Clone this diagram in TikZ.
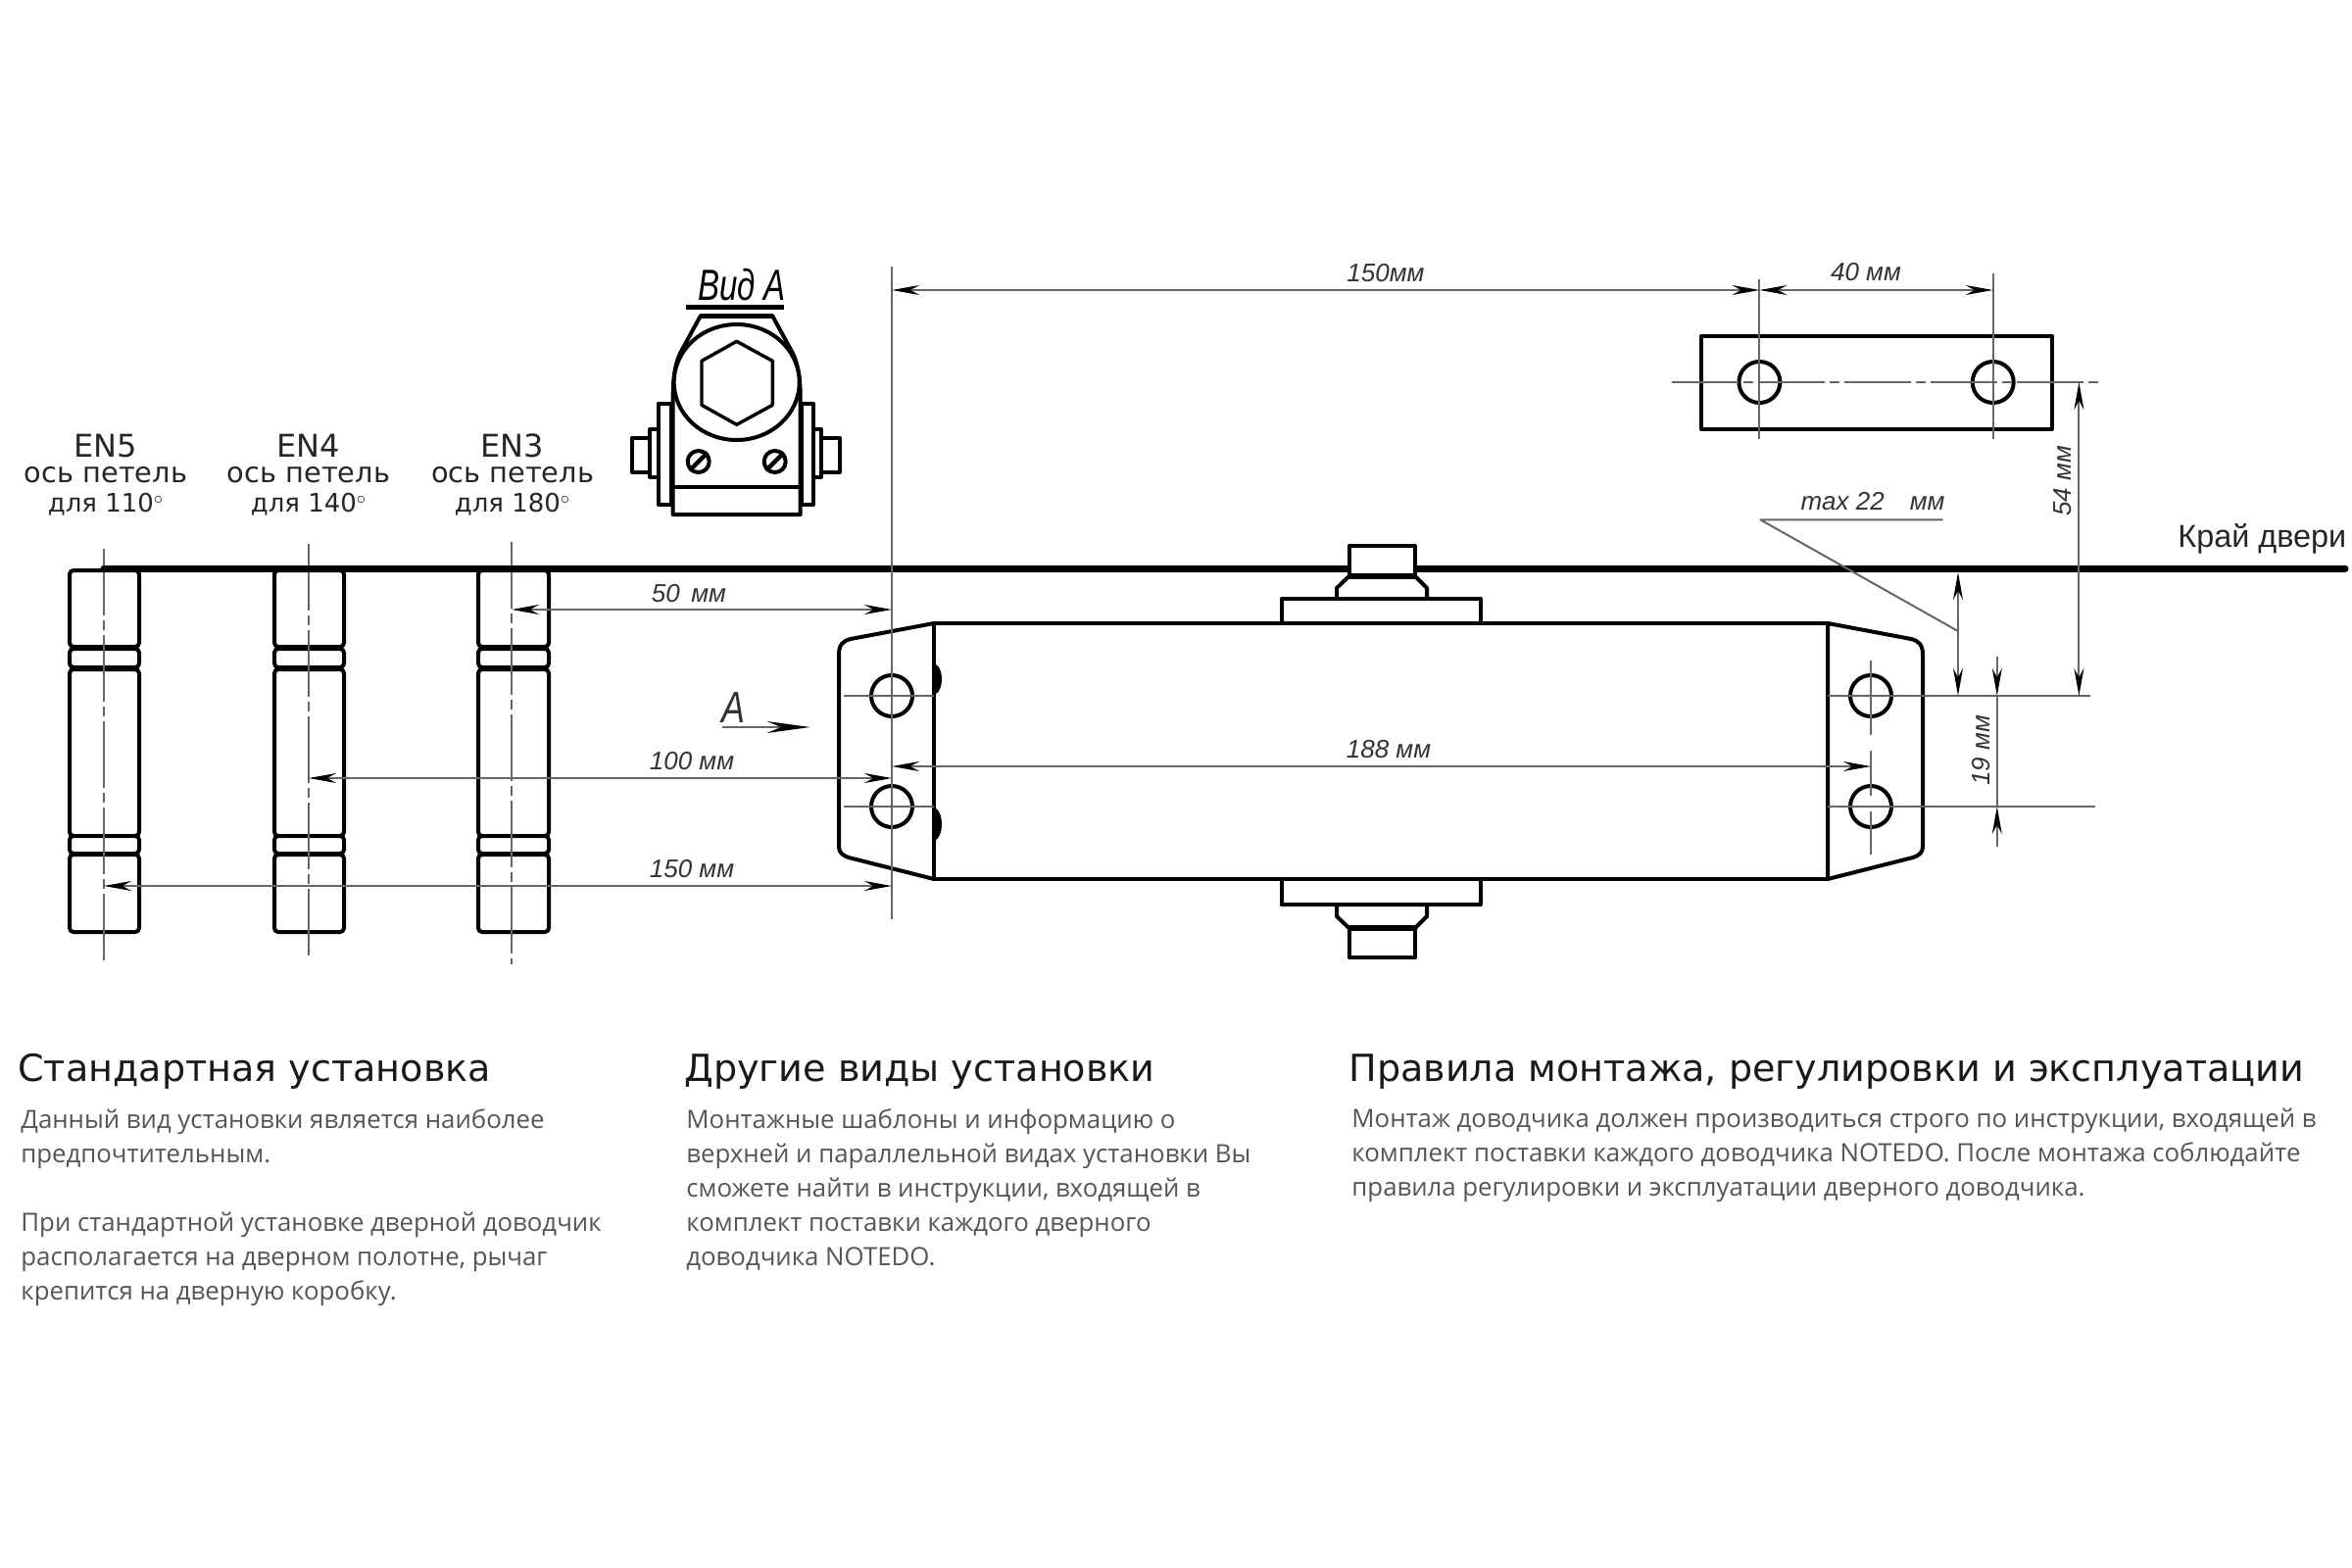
\documentclass[tikz,border=0pt]{standalone}
\usepackage{fontspec}
\setmainfont{Open Sans}
\newfontfamily\labelfont{DejaVu Sans}
\newfontfamily\dimfont{Liberation Sans}
\usetikzlibrary{arrows.meta}
\definecolor{bodygray}{HTML}{555555}
\definecolor{dimgray}{HTML}{666666}

\begin{document}
\begin{tikzpicture}[
        x = 0.5pt, y = -0.5pt, % one unit is one pixel of the reference
        > = {Stealth[length=14pt, width=5pt, color=black]}, % arrow head style
        node distance = 15pt, % distance between hinge labels
        line join = round
    ]

    \tikzstyle{outline}=[draw = black, line width = 2pt, fill = white]
    \tikzstyle{hingepart}=[outline, rounded corners = 2pt]
    \tikzstyle{hole}=[outline, circle, inner sep = 0pt, minimum size = 21pt]
    \tikzstyle{dimline}=[draw = dimgray, line width = 1pt]
    \tikzstyle{axisline}=[dimline, dash pattern = on 34pt off 2.5pt on 5pt off 2.5pt]
    \tikzstyle{dimtext}=[inner sep = 0pt, text = black!80, font = \dimfont\itshape\fontsize{13}{15}\selectfont]
    \tikzstyle{hingetitle}=[inner sep = 0pt, text = black!85, font = \labelfont\fontsize{16}{18}\selectfont]
    \tikzstyle{hingetext}=[hingetitle, font = \labelfont\fontsize{14.4}{16}\selectfont]
    \tikzstyle{hingeangle}=[hingetitle, font = \labelfont\fontsize{13}{15}\selectfont]
    \tikzstyle{heading}=[inner sep = 0pt, anchor = base west, text = black!90, font = \labelfont\fontsize{19.05}{22}\selectfont]
    \tikzstyle{bodytext}=[inner sep = 0pt, anchor = north west, align = left, text = bodygray, font = \fontsize{12.9}{17.5}\selectfont]

    \useasboundingbox (0,0) rectangle (2400,1600);

    % hinges
    \draw[hingepart] (71,582) rectangle (142,660);
    \draw[hingepart] (71,662) rectangle (142,681);
    \draw[hingepart] (71,683) rectangle (142,853);
    \draw[hingepart] (71,853) rectangle (142,871);
    \draw[hingepart] (71,872) rectangle (142,951);
    \draw[hingepart] (280,582) rectangle (351,660);
    \draw[hingepart] (280,662) rectangle (351,681);
    \draw[hingepart] (280,683) rectangle (351,853);
    \draw[hingepart] (280,853) rectangle (351,871);
    \draw[hingepart] (280,872) rectangle (351,951);
    \draw[hingepart] (488,582) rectangle (560,660);
    \draw[hingepart] (488,662) rectangle (560,681);
    \draw[hingepart] (488,683) rectangle (560,853);
    \draw[hingepart] (488,853) rectangle (560,871);
    \draw[hingepart] (488,872) rectangle (560,951);
    \coordinate (en5top) at (106,560);
    \coordinate (en5end) at (106,982);
    \coordinate (en4top) at (315,555);
    \coordinate (en4end) at (315,979);
    \coordinate (en3top) at (522,553);
    \coordinate (en3end) at (522,984);
    \draw[axisline] (en5top) -- (en5end);
    \draw[axisline] (en4top) -- (en4end);
    \draw[axisline] (en3top) -- (en3end);

    % door edge
    \coordinate (doorL) at (106,580);
    \coordinate (doorR) at (2393,580);
    \draw[line width = 3.5pt, line cap = round] (doorL) -- (doorR);

    % hinge labels
    \node[hingetitle] (en5) at (108,455) {EN5};
    \node[hingetext] (en5a) [below of=en5] {ось петель};
    \node[hingeangle] (en5b) [below of=en5a] {для 110$^{\circ}$};
    \node[hingetitle] (en4) at (315,455) {EN4};
    \node[hingetext] (en4a) [below of=en4] {ось петель};
    \node[hingeangle] (en4b) [below of=en4a] {для 140$^{\circ}$};
    \node[hingetitle] (en3) at (523,455) {EN3};
    \node[hingetext] (en3a) [below of=en3] {ось петель};
    \node[hingeangle] (en3b) [below of=en3a] {для 180$^{\circ}$};

    % view A
    \node[inner sep = 0pt, text = black, font = \dimfont\itshape\fontsize{16.5}{20}\selectfont] (viewA) at (757,291) {\scalebox{1}[1.35]{Вид А}};
    \coordinate (viewL) at (700,313);
    \coordinate (viewR) at (800,313);
    \draw[line width = 2.5pt] (viewL) -- (viewR);
    \draw[outline] (671.7,411.7) rectangle (685,515);
    \draw[outline] (818.3,411.7) rectangle (830,515);
    \draw[outline] (663.3,438) rectangle (671.7,486.7);
    \draw[outline] (645,446.7) rectangle (663.3,481.7);
    \draw[outline] (830,438) rectangle (838,486.7);
    \draw[outline] (838,446.7) rectangle (856.7,481.7);
    \draw[outline] (715,322) -- (788,322) -- (806,355)
        .. controls (814,368) and (816.7,385) .. (816.7,405)
        -- (816.7,525) -- (686.7,525) -- (686.7,405)
        .. controls (686.7,385) and (689,368) .. (697,355) -- cycle;
    \draw[line width = 2.5pt] (715,322) -- (788,322);
    \draw[outline] (751.7,390) ellipse [x radius = 64, y radius = 59];
    \draw[line width = 1.7pt] (751.7,348.3) -- (788.3,368.3) -- (788.3,413.3) -- (751.7,433.3)
        -- (716,413.3) -- (716,368.3) -- cycle;
    \coordinate (shelfL) at (686.7,496.7);
    \coordinate (shelfR) at (816.7,496.7);
    \draw[line width = 2pt] (shelfL) -- (shelfR);
    \node[outline, circle, inner sep = 0pt, minimum size = 11pt, fill = white] (screwL) at (712.7,471) {};
    \node[outline, circle, inner sep = 0pt, minimum size = 11pt, fill = white] (screwR) at (790.7,471) {};
    \draw[line width = 2.2pt] (screwL.south west) -- (screwL.north east);
    \draw[line width = 2.2pt] (screwR.south west) -- (screwR.north east);

    % mounting plate
    \draw[outline] (1736,343) rectangle (2094,438);
    \node[hole] (plateL) at (1795.4,390) {};
    \node[hole] (plateR) at (2033.7,390) {};
    \coordinate (plateW) at (1706,390);
    \coordinate (plateE) at (2141,390);
    \draw[axisline] (plateW) -- (plateE);
    \coordinate (plateLtop) at (1795.4,285);
    \coordinate (plateLend) at (1795.4,448);
    \coordinate (plateRtop) at (2033.7,279);
    \coordinate (plateRend) at (2033.7,448);
    \draw[dimline] (plateLtop) -- (plateLend);
    \draw[dimline] (plateRtop) -- (plateRend);

    % closer body
    \draw[outline] (1376.5,557) rectangle (1444,588);
    \draw[outline] (1376.5,588) -- (1364,600) -- (1364,611)
        -- (1456,611) -- (1456,600) -- (1444,588) -- cycle;
    \draw[line width = 3pt] (1376.5,588) -- (1444,588);
    \draw[outline] (1307.6,611) rectangle (1510.7,636);
    \draw[outline] (1376.5,947) rectangle (1444,977);
    \draw[outline] (1376.5,947) -- (1364,935) -- (1364,923)
        -- (1456,923) -- (1456,935) -- (1444,947) -- cycle;
    \draw[line width = 3pt] (1376.5,947) -- (1444,947);
    \draw[outline] (1307.6,897) rectangle (1510.7,923);
    \draw[outline] (953,636) -- (868,652) .. controls (860,654) and (856,658) .. (856,668)
        -- (856,864) .. controls (856,870) and (860,873) .. (866,875) -- (953,897) -- cycle;
    \draw[outline] (1865,636) -- (1950,652) .. controls (1958,654) and (1962,658) .. (1962,668)
        -- (1962,864) .. controls (1962,870) and (1958,873) .. (1952,875) -- (1865,897) -- cycle;
    \draw[outline] (953,636) rectangle (1865,897);
    \fill (955,678) .. controls (963,682) and (963,704) .. (955,708) -- cycle;
    \fill (955,825) .. controls (963,830) and (963,852) .. (955,857) -- cycle;
    \node[hole] (holeLT) at (910,710) {};
    \node[hole] (holeLB) at (910,823) {};
    \node[hole] (holeRT) at (1909,710) {};
    \node[hole] (holeRB) at (1909,823) {};
    \coordinate (holeLTw) at (861,710);
    \coordinate (holeLTe) at (953,710);
    \coordinate (holeLBw) at (861,823);
    \coordinate (holeLBe) at (953,823);
    \coordinate (holeRTw) at (1865,710);
    \coordinate (holeRTe) at (2133,710);
    \coordinate (holeRBw) at (1865,823);
    \coordinate (holeRBe) at (2138,823);
    \draw[dimline] (holeLTw) -- (holeLTe);
    \draw[dimline] (holeLBw) -- (holeLBe);
    \draw[dimline] (holeRTw) -- (holeRTe);
    \draw[dimline] (holeRBw) -- (holeRBe);
    \coordinate (axisRtop) at (1909,674);
    \coordinate (axisRend) at (1909,872);
    \draw[dimline, dash pattern = on 38pt off 8pt on 23pt off 8pt on 40pt] (axisRtop) -- (axisRend);

    % reference line and dimensions
    \coordinate (refTop) at (910,272);
    \coordinate (refEnd) at (910,938);
    \draw[dimline] (refTop) -- (refEnd);

    \coordinate (d50a) at (522,622);
    \coordinate (d50b) at (910,622);
    \draw[dimline, <->] (d50a) -- (d50b);
    \coordinate (d100a) at (315,794);
    \coordinate (d100b) at (910,794);
    \draw[dimline, line width = 1.4pt, <->] (d100a) -- (d100b);
    \coordinate (d150a) at (106,904);
    \coordinate (d150b) at (910,904);
    \draw[dimline, <->] (d150a) -- (d150b);
    \coordinate (d188a) at (910,782);
    \coordinate (d188b) at (1909,782);
    \draw[dimline, line width = 1.4pt, <->] (d188a) -- (d188b);
    \coordinate (dtopa) at (910,296);
    \coordinate (dtopb) at (1795.4,296);
    \draw[dimline, <->] (dtopa) -- (dtopb);
    \coordinate (d40b) at (2033.7,296);
    \draw[dimline, <->] (dtopb) -- (d40b);
    \coordinate (d54a) at (2121.4,390);
    \coordinate (d54b) at (2121.4,710);
    \draw[dimline, <->] (d54a) -- (d54b);
    \coordinate (d22a) at (1998,584);
    \coordinate (d22b) at (1998,710);
    \draw[dimline, <->] (d22a) -- (d22b);
    \coordinate (lead1) at (1982.6,530.4);
    \coordinate (lead2) at (1796.4,530.4);
    \coordinate (lead3) at (1998,644);
    \draw[dimline] (lead1) -- (lead2) -- (lead3);
    \coordinate (d19top) at (2037.8,670);
    \coordinate (d19a) at (2037.8,710);
    \coordinate (d19b) at (2037.8,823);
    \coordinate (d19end) at (2037.8,864);
    \draw[dimline, ->] (d19top) -- (d19a);
    \draw[dimline] (d19a) -- (d19b);
    \draw[dimline, ->] (d19end) -- (d19b);
    \coordinate (arrA) at (736.5,742);
    \coordinate (arrB) at (826.6,742);
    \draw[dimline, -{Stealth[length=22pt, width=6pt, color=black]}] (arrA) -- (arrB);

    % dimension labels
    \node[dimtext] (t50) at (703,606) {50\, мм};
    \node[dimtext] (t100) at (706,777) {100 мм};
    \node[dimtext] (t150) at (706,887) {150 мм};
    \node[dimtext] (t188) at (1417,765) {188 мм};
    \node[dimtext] (ttop) at (1414,279) {150мм};
    \node[dimtext] (t40) at (1904,278) {40 мм};
    \node[dimtext] (t54) [rotate = 90] at (2105,491) {54 мм};
    \node[dimtext] (t19) [rotate = 90] at (2022,766) {19 мм};
    \node[dimtext] (t22) at (1911,512) {max 22\quad мм};
    \node[dimtext, font = \dimfont\itshape\fontsize{18}{20}\selectfont] (tA) at (748,722) {\scalebox{1}[1.25]{A}};
    \node[inner sep = 0pt, anchor = base west, text = black!85, font = \dimfont\fontsize{16.2}{18}\selectfont] (edge) at (2222,558) {Край двери};

    % text columns
    \node[heading] (headA) at (18,1103) {Стандартная установка};
    \node[bodytext] (bodyA) at (21,1131) {Данный вид установки является наиболее\\предпочтительным.\\[17.5pt]При стандартной установке дверной доводчик\\располагается на дверном полотне, рычаг\\крепится на дверную коробку.};
    \node[heading] (headB) at (698,1103) {Другие виды установки};
    \node[bodytext] (bodyB) at (700,1131) {Монтажные шаблоны и информацию о\\верхней и параллельной видах установки Вы\\сможете найти в инструкции, входящей в\\комплект поставки каждого дверного\\доводчика NOTEDO.};
    \node[heading] (headC) at (1376,1103) {Правила монтажа, регулировки и эксплуатации};
    \node[bodytext] (bodyC) at (1379,1131) {Монтаж доводчика должен производиться строго по инструкции, входящей в\\комплект поставки каждого доводчика NOTEDO. После монтажа соблюдайте\\правила регулировки и эксплуатации дверного доводчика.};

\end{tikzpicture}
\end{document}
